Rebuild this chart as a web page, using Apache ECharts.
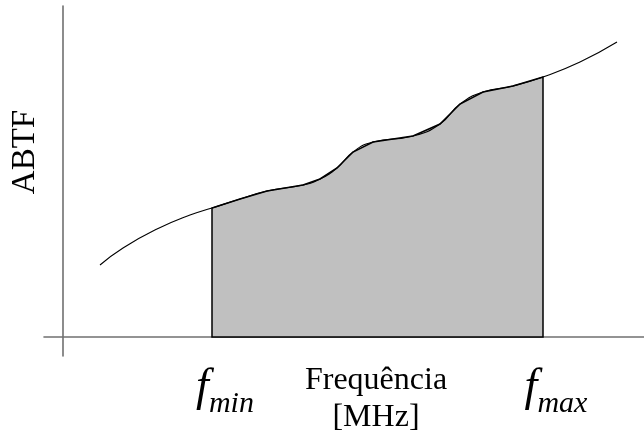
<!DOCTYPE html>
<html><head><meta charset="utf-8">
<script src="https://cdn.jsdelivr.net/npm/echarts@6/dist/echarts.min.js"></script>
<style>html,body{margin:0;padding:0;background:#fff}#c{width:644px;height:432px}</style>
</head><body><div id="c"></div>
<script>
// Frequency (arbitrary units) and ABTF values
const curveX = [3.7, 6.0, 9.4, 12.7, 14.9, 17.7, 20.4, 24.0, 25.7, 27.4, 29.0, 31.0, 35.0, 37.7, 39.7, 42.0, 45.0, 48.0, 51.7, 55.4];
const curveY = [7.2, 8.9, 10.8, 12.2, 12.9, 13.8, 14.6, 15.2, 15.8, 16.9, 18.5, 19.5, 20.1, 21.3, 23.3, 24.5, 25.1, 26.0, 27.5, 29.5];
const fMin = 14.9;
const fMax = 48.0;
const xLabels = ['min', 'max'];
const xName = 'Frequência\n[MHz]';
const yName = 'ABTF';

const curve = curveX.map((x, i) => [x, curveY[i]]);
const band = curve.filter(p => p[0] >= fMin && p[0] <= fMax);

const chart = echarts.init(document.getElementById('c'));
const serif = 'Liberation Serif, Times New Roman, serif';
chart.setOption({
  animation: false,
  grid: { left: 44, right: 0, top: 6, bottom: 76 },
  xAxis: {
    type: 'value', min: -1.9, max: 58.1,
    splitLine: { show: false },
    axisTick: { show: false },
    axisLine: { show: true, onZero: true, lineStyle: { color: '#707070', width: 1.6 } },
    axisLabel: {
      customValues: [fMin, fMax],
      margin: 15,
      padding: [0, 0, 0, 26],
      formatter: v => '{f|f}{s|' + (v === fMin ? xLabels[0] : xLabels[1]) + '}',
      rich: {
        f: { fontFamily: serif, fontStyle: 'italic', fontSize: 46, color: '#000', lineHeight: 48, verticalAlign: 'bottom', padding: [0, 0, 8, 0] },
        s: { fontFamily: serif, fontStyle: 'italic', fontSize: 30, color: '#000', verticalAlign: 'bottom', lineHeight: 30 }
      }
    }
  },
  yAxis: {
    type: 'value', min: -1.9, max: 33.1,
    splitLine: { show: false },
    axisTick: { show: false },
    axisLabel: { show: false },
    axisLine: { show: true, onZero: true, lineStyle: { color: '#707070', width: 1.6 } }
  },
  graphic: [
    { type: 'text', x: 25, y: 152, rotation: Math.PI / 2,
      style: { text: yName, fontFamily: serif, fontSize: 33, fill: '#000', align: 'center', verticalAlign: 'middle' } },
    { type: 'text', x: 376, y: 362,
      style: { text: xName, fontFamily: serif, fontSize: 32, lineHeight: 37, fill: '#000', align: 'center', verticalAlign: 'top' } }
  ],
  series: [
    {
      type: 'custom',
      coordinateSystem: 'cartesian2d',
      data: [[fMin, 0]],
      z: 1,
      renderItem: (params, api) => {
        const pts = [api.coord([fMin, 0])];
        band.forEach(p => pts.push(api.coord(p)));
        pts.push(api.coord([fMax, 0]));
        return { type: 'polygon', shape: { points: pts },
          style: { fill: '#c0c0c0', stroke: '#000', lineWidth: 1.5 } };
      }
    },
    {
      type: 'line',
      data: curve,
      smooth: 0.5,
      symbol: 'none',
      z: 3,
      lineStyle: { color: '#000', width: 1.1 }
    }
  ]
});
</script></body></html>
